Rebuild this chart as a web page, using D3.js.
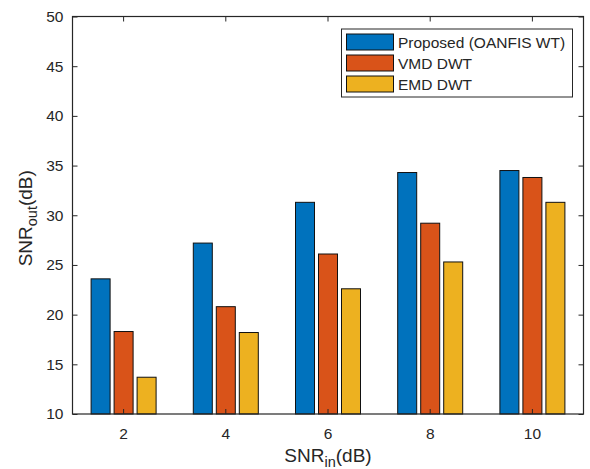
<!DOCTYPE html>
<html lang="en">
<head>
<meta charset="UTF-8">
<title>SNR bars</title>
<script src="https://d3js.org/d3.v7.min.js"></script>
<style>
  body { margin: 0; background: #fff; }
  svg text { font-family: "Liberation Sans", Arial, sans-serif; fill: #262626; }
</style>
</head>
<body>
<svg id="chart" width="590" height="469"></svg>
<script>
// data
var snrIn = ['2', '4', '6', '8', '10'];
var seriesNames = ['Proposed (OANFIS WT)', 'VMD DWT', 'EMD DWT'];
var proposed = [23.6, 27.2, 31.3, 34.3, 34.5];
var vmdDwt = [18.3, 20.8, 26.1, 29.2, 33.8];
var emdDwt = [13.7, 18.2, 22.6, 25.3, 31.3];
var yTicks = [10, 15, 20, 25, 30, 35, 40, 45, 50];

var colors = ['#0072BD', '#D95319', '#EDB120'];
var series = [proposed, vmdDwt, emdDwt];

// plot box ("top" is taken by window.top, so use other names)
var axL = 72.5, axR = 583.5, axT = 16.5, axB = 414;
var ink = '#262626';

var svg = d3.select('#chart');

var x = d3.scaleBand().domain(snrIn).range([axL, axR]);
var y = d3.scaleLinear().domain([10, 50]).range([axB, axT]);

var barW = 19, barStep = 23; // bar width and offset between bars of a group

// bars
series.forEach(function (vals, s) {
    svg.append('g').selectAll('rect')
        .data(vals)
        .enter().append('rect')
        .attr('x', (d, i) => x(snrIn[i]) + x.bandwidth() / 2 + (s - 1) * barStep - barW / 2)
        .attr('y', d => y(d))
        .attr('width', barW)
        .attr('height', d => y(10) - y(d))
        .attr('fill', colors[s])
        .attr('stroke', '#111')
        .attr('stroke-width', 1);
});

// axes (MATLAB style: ticks inside, box on)
var tickLen = 5;
var xAxB = d3.axisBottom(x).tickSize(-tickLen).tickPadding(14);
var xAxT = d3.axisTop(x).tickSize(-tickLen).tickFormat('');
var yAxL = d3.axisLeft(y).tickValues(yTicks).tickSize(-tickLen).tickPadding(9);
var yAxR = d3.axisRight(y).tickValues(yTicks).tickSize(-tickLen).tickFormat('');

function styleAxis(g) {
    g.selectAll('.domain').remove();
    g.selectAll('line').attr('stroke', ink);
    g.selectAll('text').attr('font-size', '15.5px').attr('fill', ink)
        .style('font-family', '"Liberation Sans", Arial, sans-serif');
}

svg.append('g').attr('transform', 'translate(0,' + axB + ')').call(xAxB).call(styleAxis);
svg.append('g').attr('transform', 'translate(0,' + axT + ')').call(xAxT).call(styleAxis);
svg.append('g').attr('transform', 'translate(' + axL + ',0)').call(yAxL).call(styleAxis);
svg.append('g').attr('transform', 'translate(' + axR + ',0)').call(yAxR).call(styleAxis);

svg.append('rect')
    .attr('x', axL).attr('y', axT)
    .attr('width', axR - axL).attr('height', axB - axT)
    .attr('fill', 'none').attr('stroke', ink).attr('stroke-width', 1.2);

// axis labels
var xl = svg.append('text')
    .attr('x', (axL + axR) / 2).attr('y', 461.5)
    .attr('text-anchor', 'middle').attr('font-size', '19px');
xl.append('tspan').text('SNR');
xl.append('tspan').attr('dy', 5).attr('font-size', '14.5px').text('in');
xl.append('tspan').attr('dy', -5).text('(dB)');

var yl = svg.append('text')
    .attr('transform', 'translate(31.5,' + ((axT + axB) / 2 + 3) + ') rotate(-90)')
    .attr('text-anchor', 'middle').attr('font-size', '19px');
yl.append('tspan').text('SNR');
yl.append('tspan').attr('dy', 5).attr('font-size', '14.5px').text('out');
yl.append('tspan').attr('dy', -5).text('(dB)');

// legend
var lg = svg.append('g');
lg.append('rect')
    .attr('x', 341.5).attr('y', 29)
    .attr('width', 231).attr('height', 68)
    .attr('fill', '#fff').attr('stroke', ink).attr('stroke-width', 1);
seriesNames.forEach(function (name, i) {
    var yy = 34 + i * 21;
    lg.append('rect')
        .attr('x', 346.5).attr('y', yy)
        .attr('width', 47).attr('height', 16)
        .attr('fill', colors[i]).attr('stroke', '#111').attr('stroke-width', 1);
    lg.append('text')
        .attr('x', 398).attr('y', yy + 13.5)
        .attr('font-size', '15.5px')
        .text(name);
});
</script>
</body>
</html>
